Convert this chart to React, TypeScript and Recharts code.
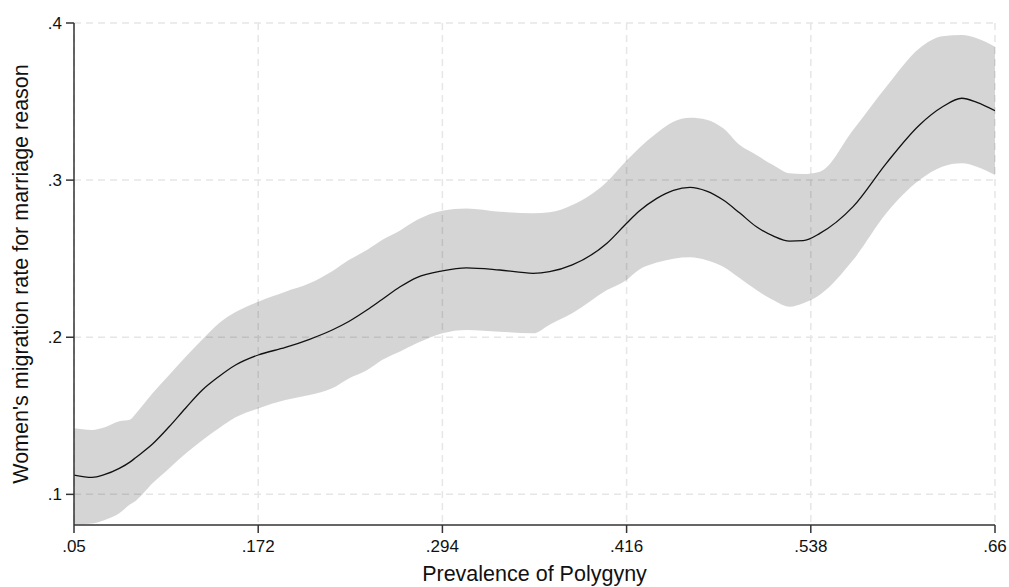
import {
  ComposedChart,
  Area,
  Line,
  XAxis,
  YAxis,
  CartesianGrid,
} from 'recharts';

// prevalence of polygyny (x) with fitted rate and 95% CI
const polygyny = [
  0.05, 0.062, 0.07, 0.08, 0.087, 0.091, 0.102, 0.113, 0.124, 0.135, 0.146, 0.157,
  0.172, 0.19, 0.206, 0.221, 0.232, 0.244, 0.254, 0.266, 0.277, 0.294, 0.31, 0.332,
  0.354, 0.365, 0.38, 0.403, 0.416, 0.424, 0.436, 0.447, 0.458, 0.469, 0.48, 0.491,
  0.502, 0.513, 0.524, 0.533, 0.544, 0.566, 0.588, 0.61, 0.625, 0.638, 0.648, 0.66,
];

const migrationRate = [
  0.1123, 0.1108, 0.1125, 0.1165, 0.1205, 0.1235, 0.132, 0.143, 0.155, 0.1664, 0.175, 0.1823,
  0.1887, 0.1935, 0.1987, 0.2046, 0.21, 0.2173, 0.224, 0.2321, 0.238, 0.2423, 0.2442, 0.2428,
  0.2407, 0.2417, 0.246, 0.2598, 0.2725, 0.28, 0.2884, 0.2935, 0.2954, 0.293, 0.2873, 0.279,
  0.2703, 0.2645, 0.2612, 0.2615, 0.2661, 0.2831, 0.3107, 0.3351, 0.3465, 0.3521, 0.3495, 0.3442,
];

const upperCI = [
  0.142, 0.141, 0.1425, 0.1465, 0.1475, 0.1515, 0.1643, 0.176, 0.1876, 0.1985, 0.2089, 0.216,
  0.2226, 0.229, 0.2343, 0.242, 0.2491, 0.2555, 0.2619, 0.268, 0.2746, 0.2805, 0.282, 0.2799,
  0.2789, 0.2795, 0.2842, 0.299, 0.3125, 0.3202, 0.33, 0.3372, 0.3397, 0.3385, 0.333, 0.3223,
  0.316, 0.3096, 0.3043, 0.3039, 0.3054, 0.3319, 0.3594, 0.3839, 0.3915, 0.3924, 0.3903, 0.3849,
];

const lowerCI = [
  0.0808, 0.0815, 0.0836, 0.0879, 0.0935, 0.096, 0.107, 0.1165, 0.126, 0.1345, 0.142, 0.149,
  0.1547, 0.16, 0.1632, 0.1675, 0.1738, 0.179, 0.1855, 0.191, 0.1961, 0.2025, 0.2046, 0.2035,
  0.2025, 0.208, 0.2152, 0.23, 0.2365, 0.2428, 0.2475, 0.25, 0.2509, 0.249, 0.2449, 0.2375,
  0.23, 0.2237, 0.2194, 0.2216, 0.227, 0.2491, 0.2789, 0.3, 0.3085, 0.3107, 0.3085, 0.3032,
];

const xTicks = [0.05, 0.172, 0.294, 0.416, 0.538, 0.66];
const yTicks = [0.1, 0.2, 0.3, 0.4];

const data = polygyny.map((x, i) => ({
  x,
  rate: migrationRate[i],
  ci: [lowerCI[i], upperCI[i]],
}));

const stataTick = (v: number) => String(v).replace(/^0\./, '.');

const axisColor = '#333';
const font = "'Liberation Sans', Arial, sans-serif";

export default function App() {
  return (
    <div style={{ position: 'absolute', left: 0, top: 0, background: '#fff', fontFamily: font }}>
      <ComposedChart
        width={1009}
        height={587}
        data={data}
        margin={{ top: 23, right: 14, bottom: 0, left: 0 }}
      >
        <CartesianGrid
          stroke="#e6e6e6"
          strokeDasharray="7 5"
          strokeWidth={1.5}
          horizontalValues={yTicks}
          verticalValues={xTicks}
        />
        <XAxis
          type="number"
          dataKey="x"
          domain={[0.05, 0.66]}
          ticks={xTicks}
          tickFormatter={stataTick}
          allowDataOverflow
          height={62}
          tickSize={8}
          tickMargin={7}
          stroke={axisColor}
          strokeWidth={1.5}
          tick={{ fill: '#111', fontSize: 17, fontFamily: font }}
          label={{
            value: 'Prevalence of Polygyny',
            position: 'insideBottom',
            offset: 6,
            fill: '#111',
            fontSize: 21.5,
            fontFamily: font,
          }}
        />
        <YAxis
          type="number"
          domain={[0.0805, 0.4]}
          ticks={yTicks}
          tickFormatter={stataTick}
          allowDataOverflow
          width={74}
          tickSize={8}
          tickMargin={4}
          stroke={axisColor}
          strokeWidth={1.5}
          tick={{ fill: '#111', fontSize: 17, fontFamily: font }}
          label={{
            value: "Women's migration rate for marriage reason",
            angle: -90,
            position: 'insideLeft',
            offset: 20,
            style: { textAnchor: 'middle' },
            fill: '#111',
            fontSize: 21.5,
            fontFamily: font,
          }}
        />
        <Area
          type="monotone"
          dataKey="ci"
          stroke="none"
          fill="#000"
          fillOpacity={0.165}
          isAnimationActive={false}
        />
        <Line
          type="monotone"
          dataKey="rate"
          stroke="#111"
          strokeWidth={1.3}
          dot={false}
          activeDot={false}
          isAnimationActive={false}
        />
      </ComposedChart>
    </div>
  );
}
